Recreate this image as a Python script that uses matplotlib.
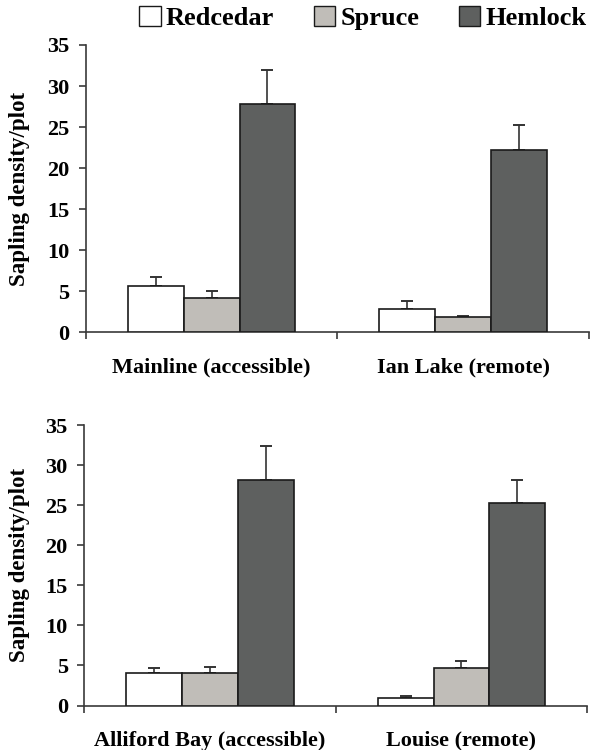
import numpy as np
import matplotlib
matplotlib.use("Agg")
import matplotlib.pyplot as plt
from matplotlib.patches import Patch

plt.rcParams['font.family'] = ['Liberation Serif', 'DejaVu Serif']
plt.rcParams['font.weight'] = 'bold'

species = ['Redcedar', 'Spruce', 'Hemlock']
colors = ['#ffffff', '#c0bdb8', '#5e605f']

sites_top = ['Mainline (accessible)', 'Ian Lake (remote)']
means_top = [[5.6, 2.9], [4.25, 1.85], [27.85, 22.2]]
errs_top = [[1.1, 0.9], [0.85, 0.15], [4.05, 3.1]]

sites_bot = ['Alliford Bay (accessible)', 'Louise (remote)']
means_bot = [[4.0, 0.9], [4.05, 4.7], [28.2, 25.25]]
errs_bot = [[0.7, 0.3], [0.7, 0.9], [4.2, 2.95]]

yticks = [0, 5, 10, 15, 20, 25, 30, 35]

fig = plt.figure(figsize=(5.9, 7.5), dpi=100)
ax1 = fig.add_axes([0.1458, 0.5567, 0.852, 0.3833])
ax2 = fig.add_axes([0.1432, 0.0593, 0.852, 0.374])

w = 0.222
spine_col = '#3a3a3a'


def draw_panel(ax, sites, means, errs, label_x):
    x = np.arange(len(sites))
    for i, sp in enumerate(species):
        pos = x + (i - 1) * w
        ax.bar(pos, means[i], w, color=colors[i], edgecolor='#1a1a1a',
               linewidth=1.2, zorder=3)
        ax.errorbar(pos, means[i], yerr=[np.zeros(len(sites)), errs[i]],
                    fmt='none', ecolor='#333333', elinewidth=1.2,
                    capsize=4, capthick=1.4, zorder=2)
    ax.set_xlim(-0.5, len(sites) - 0.5)
    ax.set_ylim(0, 35)
    ax.set_yticks(yticks)
    ax.set_yticklabels([str(t) for t in yticks], fontsize=16, fontweight='bold')
    # category boundaries as major ticks, names on minor ticks
    ax.set_xticks(np.arange(len(sites) + 1) - 0.5)
    ax.set_xticklabels([])
    ax.set_xticks(x, minor=True)
    ax.set_xticklabels(sites, minor=True, fontsize=16, fontweight='bold')
    ax.tick_params(axis='x', which='minor', length=0, pad=18)
    ax.tick_params(axis='x', which='major', direction='out', length=5,
                   width=1.2, color=spine_col)
    ax.tick_params(axis='y', direction='out', length=5, width=1.2,
                   color=spine_col, pad=7)
    for s in ['top', 'right']:
        ax.spines[s].set_visible(False)
    for s in ['left', 'bottom']:
        ax.spines[s].set_color(spine_col)
        ax.spines[s].set_linewidth(1.2)
    ax.set_ylabel('Sapling density/plot', fontsize=16.5, fontweight='bold')
    ax.yaxis.set_label_coords(label_x, 0.5)


draw_panel(ax1, sites_top, means_top, errs_top, -0.112)
draw_panel(ax2, sites_bot, means_bot, errs_bot, -0.109)

handles = [Patch(facecolor=c, edgecolor='#1a1a1a', linewidth=1.0) for c in colors]
fig.legend(handles, species, loc='center', bbox_to_anchor=(0.615, 0.976),
           ncol=3, frameon=False, handlelength=0.8,
           handleheight=0.8, handletextpad=0.2, columnspacing=1.5,
           prop={'weight': 'bold', 'size': 19})

fig.savefig('out.png', dpi=100)
